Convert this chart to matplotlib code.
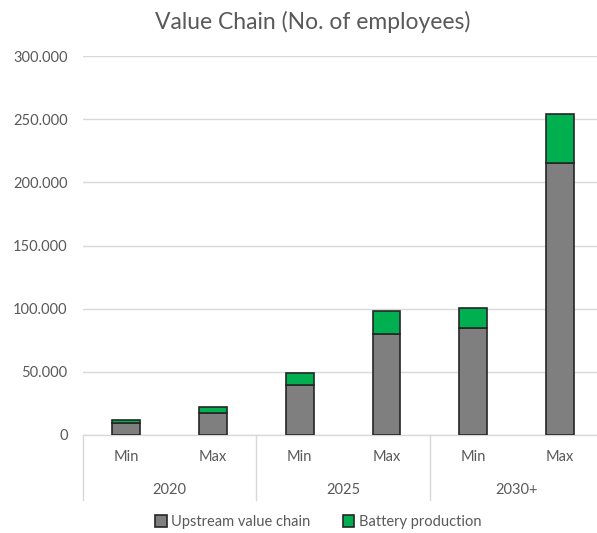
import matplotlib
matplotlib.use("Agg")
import matplotlib.pyplot as plt
import matplotlib.transforms as mtransforms
import numpy as np

plt.rcParams['font.family'] = ['Lato', 'DejaVu Sans']

years = ['2020', '2025', '2030+']
bounds = ['Min', 'Max']
upstream = [9500, 17500, 39500, 80000, 85000, 215500]
battery = [2500, 4500, 9500, 18000, 15500, 38500]
yticks = [0, 50000, 100000, 150000, 200000, 250000, 300000]
ytick_labels = ['0', '50.000', '100.000', '150.000', '200.000', '250.000', '300.000']

GRID = '#d9d9d9'
TXT = '#595959'

fig = plt.figure(figsize=(5.97, 5.33), dpi=100)
ax = fig.add_axes([83 / 597, 1 - 435 / 533, 1 - 83 / 597, (435 - 56) / 533])

x = np.arange(len(upstream))
ax.bar(x, upstream, width=0.32, color='#7f7f7f', edgecolor='#262626', linewidth=1.2,
       label='Upstream value chain', zorder=3)
ax.bar(x, battery, bottom=upstream, width=0.32, color='#00b050', edgecolor='#262626',
       linewidth=1.2, label='Battery production', zorder=3)

ax.set_xlim(-0.5, 5.43)
ax.set_ylim(0, 300000)
ax.set_yticks(yticks)
ax.set_yticklabels(ytick_labels, color=TXT, fontsize=10.5)
ax.tick_params(axis='y', length=0, pad=11)
ax.set_xticks([])
ax.yaxis.grid(True, color=GRID, linewidth=1.0, zorder=0)
for s in ['top', 'right', 'left']:
    ax.spines[s].set_visible(False)
ax.spines['bottom'].set_color(GRID)
ax.spines['bottom'].set_linewidth(1.0)

# two-level category axis: Min/Max under each bar, years below, separators between groups
trans = mtransforms.blended_transform_factory(ax.transData, ax.transAxes)
for i in x:
    ax.text(i, -0.057, bounds[i % 2], transform=trans, ha='center', va='center',
            color=TXT, fontsize=10.5)
for g, yr in enumerate(years):
    ax.text(2 * g + 0.5, -0.144, yr, transform=trans, ha='center', va='center',
            color=TXT, fontsize=10.5)
for xs in [-0.5, 1.5, 3.5]:
    ax.plot([xs, xs], [0, -0.172], transform=trans, color=GRID, linewidth=1.0,
            clip_on=False)

fig.text(0.523, 1 - 22 / 533, 'Value Chain (No. of employees)', ha='center', va='center',
         color=TXT, fontsize=16.5)

fig.legend(loc='center', bbox_to_anchor=(0.533, 1 - 522 / 533), ncol=2, frameon=False,
           fontsize=10.5, handlelength=0.8, handleheight=0.8, handletextpad=0.3,
           columnspacing=2.2, labelcolor=TXT)

fig.savefig('out.png', dpi=100)
